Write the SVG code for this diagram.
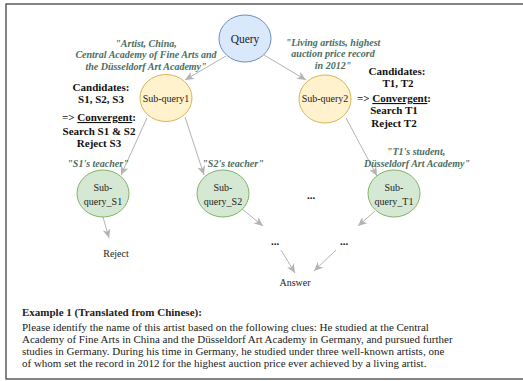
<svg xmlns="http://www.w3.org/2000/svg" width="523" height="381" viewBox="0 0 523 381">
<style>
text{font-family:"Liberation Serif","Times New Roman",serif;fill:#222}
.n{font-size:10px;text-anchor:middle}
.q{font-size:11.5px;text-anchor:middle}
.lab{font-size:10px;font-weight:bold;font-style:italic;fill:#4a6e62;text-anchor:middle}
.b{font-size:11px;font-weight:bold;text-anchor:middle;fill:#111}
.p{font-size:11px;fill:#222}
.e{stroke:#b3b3b3;stroke-width:1;fill:none;marker-end:url(#ah)}
.blue{fill:#dae8fc;stroke:#6c8ebf;stroke-width:1}
.yel{fill:#fff2cc;stroke:#d6b656;stroke-width:1}
.grn{fill:#d5e8d4;stroke:#82b366;stroke-width:1}
</style>
<defs>
<marker id="ah" markerUnits="userSpaceOnUse" markerWidth="10" markerHeight="8" refX="9" refY="4" orient="auto">
<path d="M0,0 L9,4 L0,8 L2.5,4 Z" fill="#b3b3b3"/>
</marker>
</defs>
<rect x="6" y="4" width="540" height="375" fill="#fff" stroke="#333" stroke-width="1.2"/>
<g id="connectors">
<line class="e" x1="226" y1="56" x2="185" y2="80"/>
<line class="e" x1="264" y1="55" x2="306" y2="80"/>
<line class="e" x1="147" y1="118" x2="121" y2="175"/>
<line class="e" x1="185" y1="117" x2="204" y2="175"/>
<line class="e" x1="346" y1="118" x2="377" y2="176"/>
<line class="e" x1="103" y1="217" x2="109" y2="238"/>
<line class="e" x1="242" y1="209" x2="263" y2="226"/>
<line class="e" x1="375" y1="211" x2="358" y2="226"/>
<line class="e" x1="281" y1="250" x2="295" y2="273"/>
<line class="e" x1="336" y1="250" x2="314" y2="271"/>
</g>
<g id="query">
<ellipse class="blue" cx="245" cy="38.5" rx="26" ry="23.5"/>
<text class="q" x="245" y="42.5">Query</text>
</g>
<g id="subquery1">
<ellipse class="yel" cx="166" cy="98" rx="26" ry="23.5"/>
<text class="n" x="166" y="101.5">Sub-query1</text>
</g>
<g id="subquery2">
<ellipse class="yel" cx="325" cy="99" rx="26" ry="24"/>
<text class="n" x="325" y="102">Sub-query2</text>
</g>
<g id="subquery_s1">
<ellipse class="grn" cx="103" cy="193.5" rx="26" ry="23.5"/>
<text class="n" x="103" y="190.5">Sub-</text>
<text class="n" x="103" y="204.5">query_S1</text>
</g>
<g id="subquery_s2">
<ellipse class="grn" cx="223" cy="193.5" rx="26" ry="23.5"/>
<text class="n" x="223" y="190.5">Sub-</text>
<text class="n" x="223" y="204.5">query_S2</text>
</g>
<g id="subquery_t1">
<ellipse class="grn" cx="394" cy="193.5" rx="26" ry="23.5"/>
<text class="n" x="394" y="190.5">Sub-</text>
<text class="n" x="394" y="204.5">query_T1</text>
</g>
<g id="reject">
<text class="n" x="116" y="256.5">Reject</text>
</g>
<g id="answer">
<text class="n" x="295" y="285.5">Answer</text>
</g>
<g id="dots">
<text class="b" x="311" y="199">...</text>
<text class="b" x="275" y="245">...</text>
<text class="b" x="344" y="245">...</text>
</g>
<g id="labels">
<text class="lab" x="146" y="46.5">"Artist, China,</text>
<text class="lab" x="146" y="57.5">Central Academy of Fine Arts and</text>
<text class="lab" x="146" y="69.5">the Düsseldorf Art Academy"</text>
<text class="lab" x="333" y="45.5">"Living artists, highest</text>
<text class="lab" x="333" y="56.5">auction price record</text>
<text class="lab" x="333" y="68.5">in 2012"</text>
<text class="lab" x="98" y="166.5">"S1's teacher"</text>
<text class="lab" x="233" y="166.5">"S2's teacher"</text>
<text class="lab" x="416" y="154.5">"T1's student,</text>
<text class="lab" x="417" y="166.5">Düsseldorf Art Academy"</text>
<text class="b" x="101" y="91">Candidates:</text>
<text class="b" x="101" y="103">S1, S2, S3</text>
<text class="b" x="99" y="121">=&gt; <tspan text-decoration="underline">Convergent</tspan>:</text>
<text class="b" x="99" y="135">Search S1 &amp; S2</text>
<text class="b" x="99" y="147">Reject S3</text>
<text class="b" x="397" y="75">Candidates:</text>
<text class="b" x="398" y="87">T1, T2</text>
<text class="b" x="394" y="102">=&gt; <tspan text-decoration="underline">Convergent</tspan>:</text>
<text class="b" x="394" y="114">Search T1</text>
<text class="b" x="394" y="127">Reject T2</text>
</g>
<g id="example">
<text class="p" x="22" y="316" font-weight="bold" fill="#111">Example 1 (Translated from Chinese):</text>
<text class="p" x="22" y="331">Please identify the name of this artist based on the following clues: He studied at the Central</text>
<text class="p" x="22" y="343">Academy of Fine Arts in China and the Düsseldorf Art Academy in Germany, and pursued further</text>
<text class="p" x="22" y="355">studies in Germany. During his time in Germany, he studied under three well-known artists, one</text>
<text class="p" x="22" y="367">of whom set the record in 2012 for the highest auction price ever achieved by a living artist.</text>
</g>
</svg>
